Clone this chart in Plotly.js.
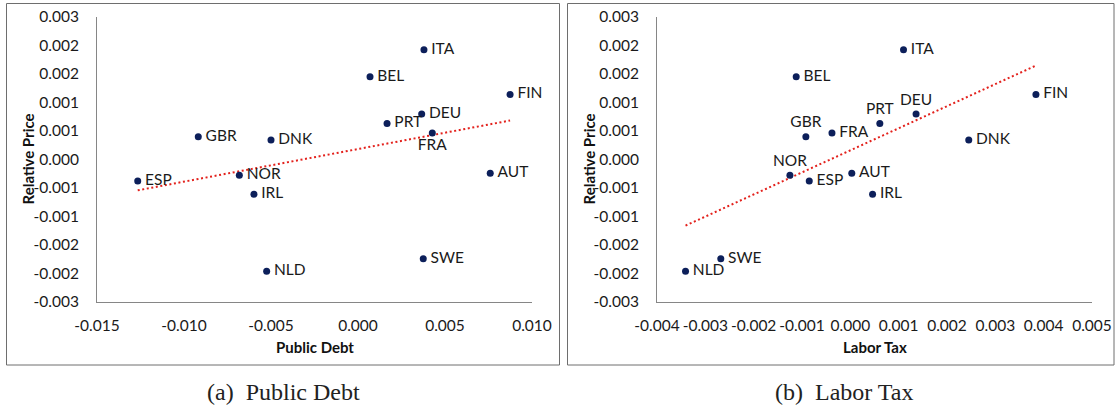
<!DOCTYPE html>
<html>
<head>
<meta charset="utf-8">
<script src="https://cdn.plot.ly/plotly-3.0.1.min.js"></script>
<style>html,body{margin:0;padding:0;background:#fff;}#chart{width:1117px;height:410px;}</style>
</head>
<body>
<div id="chart"></div>
<script>
// ---- data ----
const countries = ["GBR","DNK","NOR","ESP","IRL","NLD","ITA","BEL","FIN","DEU","PRT","FRA","AUT","SWE"];
const relativePrice = [0.00048,0.00041,-0.00033,-0.00045,-0.00073,-0.00235,0.00231,0.00174,0.00137,0.00096,0.00076,0.00056,-0.00029,-0.00209];
const publicDebt = [-0.00918,-0.00500,-0.00682,-0.01266,-0.00598,-0.00525,0.00379,0.00069,0.00874,0.00366,0.00167,0.00427,0.00760,0.00375];
const laborTax = [-0.00092,0.00245,-0.00125,-0.00085,0.00046,-0.00341,0.00110,-0.00112,0.00384,0.00136,0.00061,-0.00038,0.00003,-0.00268];

const yTickVals = [-0.003,-0.0024,-0.0018,-0.0012,-0.0006,0,0.0006,0.0012,0.0018,0.0024,0.003];
const yTickText = ["-0.003","-0.002","-0.002","-0.001","-0.001","0.000","0.001","0.001","0.002","0.002","0.003"];
const debtTickVals = [-0.015,-0.010,-0.005,0,0.005,0.010];
const debtTickText = ["-0.015","-0.010","-0.005","0.000","0.005","0.010"];
const taxTickVals = [-0.004,-0.003,-0.002,-0.001,0,0.001,0.002,0.003,0.004,0.005];
const taxTickText = ["-0.004","-0.003","-0.002","-0.001","0.000","0.001","0.002","0.003","0.004","0.005"];

// ---- label placement (style) ----
const posDebt = {FRA:"bottom center"};
const posTax = {GBR:"top center", NOR:"top center", PRT:"top center", DEU:"top center"};

// ---- helpers ----
function ols(x, y){
  const n = x.length;
  const mx = x.reduce((a,b)=>a+b,0)/n, my = y.reduce((a,b)=>a+b,0)/n;
  let sxy=0, sxx=0;
  for(let i=0;i<n;i++){ sxy += (x[i]-mx)*(y[i]-my); sxx += (x[i]-mx)*(x[i]-mx); }
  const b = sxy/sxx, a = my - b*mx;
  const x0 = Math.min(...x), x1 = Math.max(...x);
  return {x:[x0,x1], y:[a+b*x0, a+b*x1]};
}

const W = 1117, H = 410;
const FONT = "Lato, 'Open Sans', sans-serif";
const dotColor = "#0c1f5a";
const trendColor = "#e3211c";

function scatterTrace(x, posMap, xa, ya){
  const pos = countries.map(c => posMap[c] || "middle right");
  return {
    x: x, y: relativePrice,
    text: countries.map((c,i) => pos[i] === "middle right" ? "\u2009" + c : c),
    type: "scatter", mode: "markers+text",
    xaxis: xa, yaxis: ya,
    marker: {color: dotColor, size: 7},
    textposition: pos,
    textfont: {family: FONT, size: 15.5, color: "#1a1a1a"},
    cliponaxis: false, hoverinfo: "skip", showlegend: false
  };
}
function trendTrace(x, xa, ya){
  const f = ols(x, relativePrice);
  return {
    x: f.x, y: f.y, type: "scatter", mode: "lines", xaxis: xa, yaxis: ya,
    line: {color: trendColor, width: 2, dash: "2px,2.6px"},
    hoverinfo: "skip", showlegend: false
  };
}

const data = [
  trendTrace(publicDebt, "x", "y"),
  scatterTrace(publicDebt, posDebt, "x", "y"),
  trendTrace(laborTax, "x2", "y2"),
  scatterTrace(laborTax, posTax, "x2", "y2")
];

const yDom = [1-302/H, 1-17/H];
const axisCommon = {
  showline: true, linecolor: "#868686", linewidth: 1, showgrid: false, zeroline: false,
  ticks: "", tickangle: 0, tickfont: {family: FONT, size: 15.5, color: "#1a1a1a"}, fixedrange: true
};

const layout = {
  width: W, height: H,
  margin: {l:0, r:0, t:0, b:0},
  paper_bgcolor: "#ffffff", plot_bgcolor: "#ffffff",
  showlegend: false,
  xaxis: Object.assign({}, axisCommon, {domain:[97/W, 532/W], range:[-0.015, 0.010], tickvals: debtTickVals, ticktext: debtTickText, anchor:"y", ticklabelstandoff: 9}),
  yaxis: Object.assign({}, axisCommon, {domain: yDom, range:[-0.003, 0.003], tickvals: yTickVals, ticktext: yTickText, anchor:"x", ticklabelstandoff: 14}),
  xaxis2: Object.assign({}, axisCommon, {domain:[657/W, 1092/W], range:[-0.004, 0.005], tickvals: taxTickVals, ticktext: taxTickText, anchor:"y2", ticklabelstandoff: 9}),
  yaxis2: Object.assign({}, axisCommon, {domain: yDom, range:[-0.003, 0.003], tickvals: yTickVals, ticktext: yTickText, anchor:"x2", ticklabelstandoff: 14}),
  shapes: [
    {type:"rect", xref:"paper", yref:"paper", x0:6.5/W, x1:559.5/W, y0:1-365/H, y1:1-3.5/H, line:{color:"#6e6e6e", width:1}},
    {type:"rect", xref:"paper", yref:"paper", x0:567.5/W, x1:1114/W, y0:1-365/H, y1:1-3.5/H, line:{color:"#6e6e6e", width:1}}
  ],
  annotations: [
    {text:"<b>Relative Price</b>", xref:"paper", yref:"paper", x:27/W, y:1-159.5/H, xanchor:"center", yanchor:"middle", textangle:-90, showarrow:false, font:{family:FONT, size:15, color:"#111"}},
    {text:"<b>Relative Price</b>", xref:"paper", yref:"paper", x:588/W, y:1-159.5/H, xanchor:"center", yanchor:"middle", textangle:-90, showarrow:false, font:{family:FONT, size:15, color:"#111"}},
    {text:"<b>Public Debt</b>", xref:"paper", yref:"paper", x:314.5/W, y:1-347/H, xanchor:"center", yanchor:"middle", showarrow:false, font:{family:FONT, size:15, color:"#111"}},
    {text:"<b>Labor Tax</b>", xref:"paper", yref:"paper", x:875/W, y:1-347/H, xanchor:"center", yanchor:"middle", showarrow:false, font:{family:FONT, size:15, color:"#111"}},
    {text:"(a)&nbsp; Public Debt", xref:"paper", yref:"paper", x:283/W, y:1-392/H, xanchor:"center", yanchor:"middle", showarrow:false, font:{family:"'Liberation Serif', serif", size:24, color:"#222"}},
    {text:"(b)&nbsp; Labor Tax", xref:"paper", yref:"paper", x:844/W, y:1-392/H, xanchor:"center", yanchor:"middle", showarrow:false, font:{family:"'Liberation Serif', serif", size:24, color:"#222"}}
  ]
};

Plotly.newPlot("chart", data, layout, {staticPlot: true, displayModeBar: false});
</script>
</body>
</html>
